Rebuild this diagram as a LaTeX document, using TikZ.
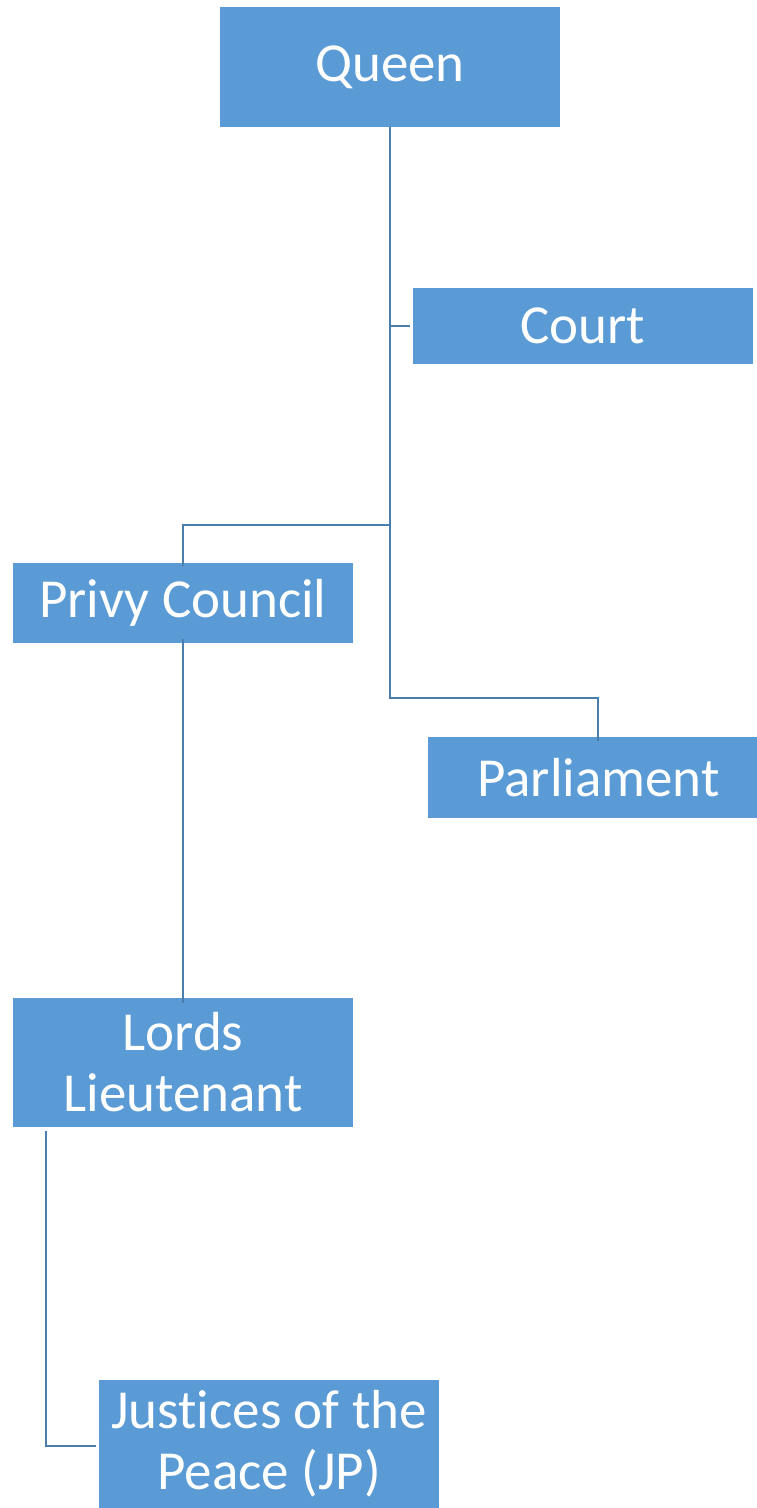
\documentclass[tikz,border=0pt]{standalone}
\usepackage{fontspec}
\setmainfont{Carlito}[Ligatures=NoCommon]
\definecolor{boxblue}{HTML}{5B9BD5}
\definecolor{linkblue}{HTML}{4A7EAF}
\begin{document}
\begin{tikzpicture}[x=1pt,y=-1pt,
  box/.style={fill=boxblue, draw=none, text=white, font=\fontsize{55}{61}\selectfont, align=center, minimum width=340pt, inner sep=0pt},
  conn/.style={draw=linkblue, line width=2pt}]
\useasboundingbox[fill=white] (0,0) rectangle (757,1508);
\node[box, minimum height=120pt] (q) at (390,67) {Queen};
\node[box, minimum height=76pt] (c) at (583,326) {Court};
\node[box, minimum height=80pt] (pc) at (183,603) {Privy Council};
\node[box, minimum width=329pt, minimum height=81pt] (par) at (592.5,777.5) {\hspace{12pt}Parliament};
\node[box, minimum height=129pt] (ll) at (183,1062.5) {Lords\\Lieutenant};
\node[box, minimum height=128pt] (jp) at (269,1444) {Justices of the\\Peace (JP)};
\coordinate (qb) at (390,698);
\coordinate (qc) at (390,326);
\coordinate (qp) at (390,525);
\coordinate (llx) at (46,1131);
\coordinate (jpy) at (46,1446);
\draw[conn] (q.south) -- (qb) -| ([xshift=5.5pt,yshift=-4pt]par.north);
\draw[conn] (qc) -- ([xshift=-3pt]c.west |- qc);
\draw[conn] (qp) -| ([yshift=-3pt]pc.north);
\draw[conn] ([yshift=4pt]pc.south) -- ([yshift=-5pt]ll.north);
\draw[conn] (llx) -- (jpy) -- ([xshift=-3pt]jp.west |- jpy);
\end{tikzpicture}
\end{document}
